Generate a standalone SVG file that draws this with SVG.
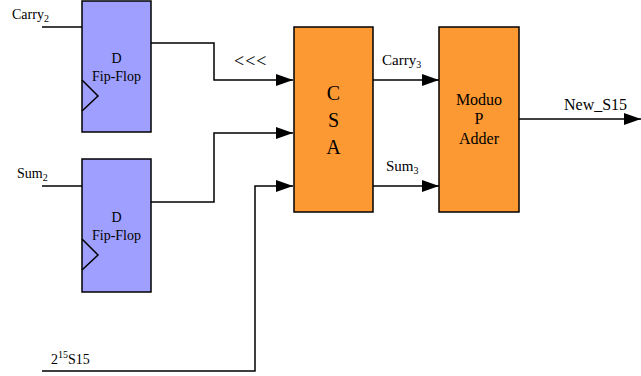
<svg xmlns="http://www.w3.org/2000/svg" width="641" height="376" viewBox="0 0 641 376">
<style>
text{font-family:"Liberation Serif","Times New Roman",serif;fill:#000}
.ff{fill:#9f9fff;stroke:#000;stroke-width:1.5}
.or{fill:#fd9933;stroke:#000;stroke-width:1.5}
.w{fill:none;stroke:#000;stroke-width:1.5}
</style>
<defs>
<marker id="ah" markerUnits="userSpaceOnUse" markerWidth="18" markerHeight="14" refX="17" refY="6" orient="auto">
<path d="M0,0 L17,6 L0,12 Z" fill="#000"/>
</marker>
</defs>
<g id="connectors">
<path class="w" d="M42,27 H82"/>
<path class="w" d="M42,186 H82"/>
<path class="w" d="M151,43 H214 V80 H293" marker-end="url(#ah)"/>
<path class="w" d="M151,202 H214 V133 H293" marker-end="url(#ah)"/>
<path class="w" d="M42,371 H255 V186 H293" marker-end="url(#ah)"/>
<path class="w" d="M373,80 H439" marker-end="url(#ah)"/>
<path class="w" d="M373,186 H439" marker-end="url(#ah)"/>
<path class="w" d="M519,119 H641" marker-end="url(#ah)"/>
</g>
<g id="dff1">
<rect class="ff" x="82" y="1" width="69" height="131"/>
<path class="w" d="M82,80 L98,96 L82,111"/>
<text x="116.5" y="63" font-size="14" text-anchor="middle">D</text>
<text x="116.5" y="81" font-size="14" text-anchor="middle">Fip-Flop</text>
</g>
<g id="dff2">
<rect class="ff" x="82" y="159" width="69" height="133"/>
<path class="w" d="M82,239 L98,255 L82,270"/>
<text x="116.5" y="222" font-size="14" text-anchor="middle">D</text>
<text x="116.5" y="240" font-size="14" text-anchor="middle">Fip-Flop</text>
</g>
<g id="csa">
<rect class="or" x="294" y="27" width="79" height="185"/>
<text x="333.5" y="100" font-size="20" text-anchor="middle">C</text>
<text x="333.5" y="127" font-size="20" text-anchor="middle">S</text>
<text x="333.5" y="154" font-size="20" text-anchor="middle">A</text>
</g>
<g id="adder">
<rect class="or" x="439" y="27" width="80" height="185"/>
<text x="479" y="105" font-size="16" text-anchor="middle">Moduo</text>
<text x="479" y="124" font-size="16" text-anchor="middle">P</text>
<text x="479" y="144" font-size="16" text-anchor="middle">Adder</text>
</g>
<g id="labels">
<text x="12" y="19" font-size="14">Carry<tspan font-size="10" dy="3">2</tspan></text>
<text x="17" y="178" font-size="14">Sum<tspan font-size="10" dy="3">2</tspan></text>
<text x="51" y="364" font-size="14">2<tspan font-size="10" dy="-6">15</tspan><tspan dy="6">S15</tspan></text>
<text x="234" y="67" font-size="18" letter-spacing="1">&lt;&lt;&lt;</text>
<text x="382" y="65" font-size="15">Carry<tspan font-size="10" dy="3">3</tspan></text>
<text x="386" y="171" font-size="15">Sum<tspan font-size="10" dy="3">3</tspan></text>
<text x="564" y="110" font-size="16">New_S15</text>
</g>
</svg>
